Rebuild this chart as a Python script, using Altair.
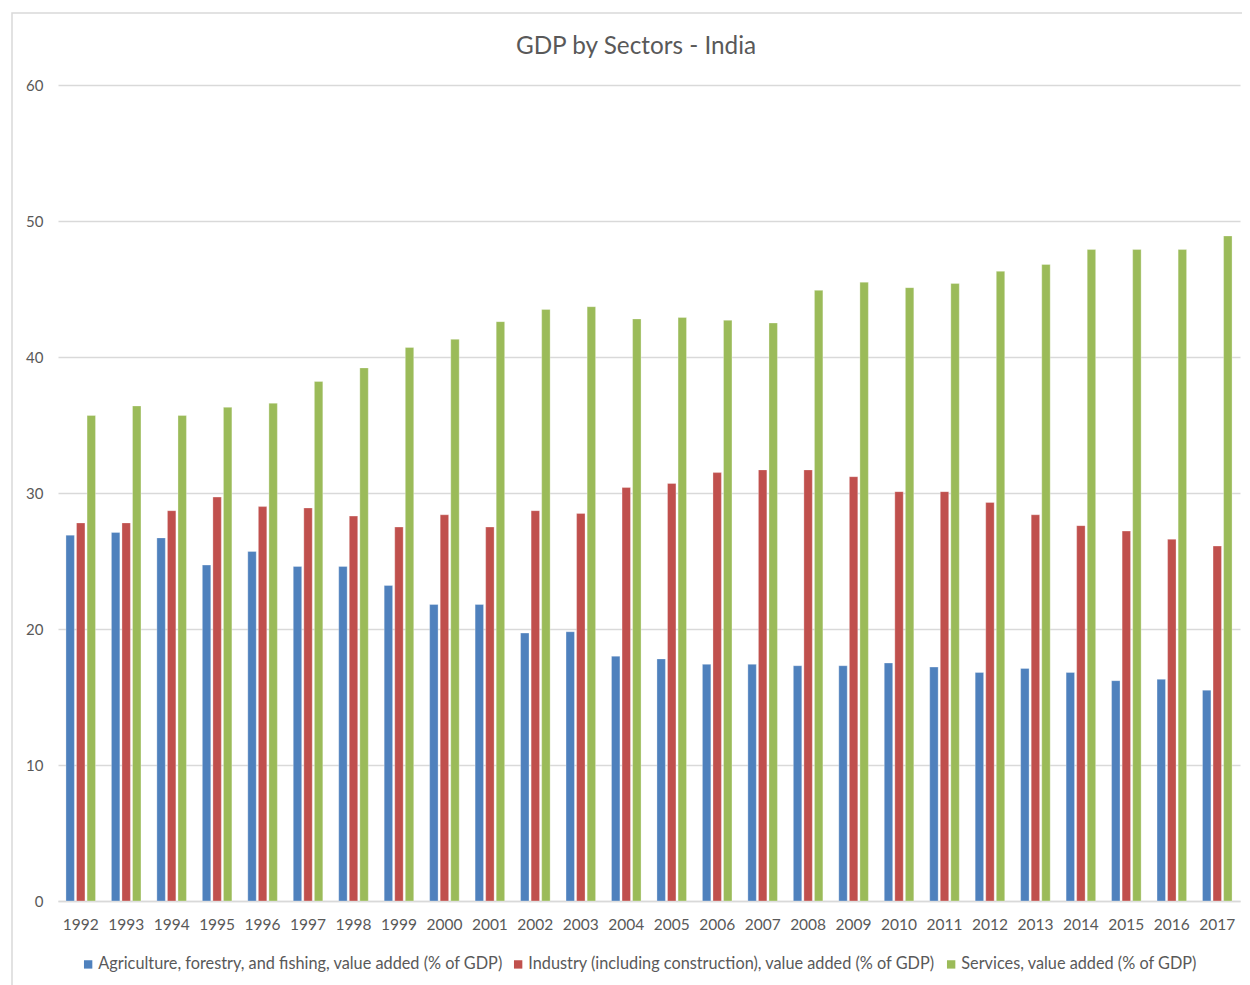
import altair as alt
import pandas as pd

years = [str(y) for y in range(1992, 2018)]
agri = [26.9, 27.1, 26.7, 24.7, 25.7, 24.6, 24.6, 23.2, 21.8, 21.8, 19.7, 19.8, 18.0,
        17.8, 17.4, 17.4, 17.3, 17.3, 17.5, 17.2, 16.8, 17.1, 16.8, 16.2, 16.3, 15.5]
ind = [27.8, 27.8, 28.7, 29.7, 29.0, 28.9, 28.3, 27.5, 28.4, 27.5, 28.7, 28.5, 30.4,
       30.7, 31.5, 31.7, 31.7, 31.2, 30.1, 30.1, 29.3, 28.4, 27.6, 27.2, 26.6, 26.1]
serv = [35.7, 36.4, 35.7, 36.3, 36.6, 38.2, 39.2, 40.7, 41.3, 42.6, 43.5, 43.7, 42.8,
        42.9, 42.7, 42.5, 44.9, 45.5, 45.1, 45.4, 46.3, 46.8, 47.9, 47.9, 47.9, 48.9]
series = [
    "Agriculture, forestry, and fishing, value added (% of GDP)",
    "Industry (including construction), value added (% of GDP)",
    "Services, value added (% of GDP)",
]
colors = ["#4F81BD", "#C0504D", "#9BBB59"]
y_ticks = [0, 10, 20, 30, 40, 50, 60]
title_text = "GDP by Sectors - India"

rows = []
for i, yr in enumerate(years):
    for s, vals in zip(series, [agri, ind, serv]):
        rows.append({"year": yr, "series": s, "value": vals[i]})
df = pd.DataFrame(rows)

font = "Lato"
txt = "#595959"
grid = "#d9d9d9"

bars = alt.Chart(df).mark_bar(stroke="white", strokeWidth=0.6, strokeOpacity=0.5).encode(
    x=alt.X("year:N", sort=years, title=None,
            scale=alt.Scale(paddingInner=0.35, paddingOuter=0.175),
            axis=alt.Axis(labelAngle=0, labelFont=font, labelFontSize=15.5, labelColor=txt,
                          ticks=False, domainColor=grid, domainWidth=1.5, labelPadding=16,
                          grid=False)),
    xOffset=alt.XOffset("series:N", sort=series, scale=alt.Scale(paddingInner=0.2)),
    y=alt.Y("value:Q", title=None, scale=alt.Scale(domain=[0, 60]),
            axis=alt.Axis(values=y_ticks, domain=False, ticks=False, gridColor=grid,
                          gridWidth=1.5, labelFont=font, labelFontSize=15, labelColor=txt,
                          labelPadding=15)),
    color=alt.Color("series:N", sort=series,
                    scale=alt.Scale(domain=series, range=colors),
                    legend=alt.Legend(title=None, orient="none", direction="horizontal",
                                      legendX=22, legendY=871, symbolType="square",
                                      symbolSize=70, labelFont=font, labelFontSize=16.3,
                                      labelColor=txt, labelLimit=0, columnPadding=7,
                                      labelOffset=2, symbolStrokeWidth=0)),
)

border = alt.Chart(pd.DataFrame({"a": [0]})).mark_rect(
    fill="transparent", stroke=grid, strokeWidth=1.5
).encode(x=alt.value(-46), x2=alt.value(1205), y=alt.value(-72), y2=alt.value(930))

title = alt.Chart(pd.DataFrame({"t": [title_text]})).mark_text(
    font=font, fontSize=24.3, color=txt, align="center", baseline="middle"
).encode(text="t:N", x=alt.value(578), y=alt.value(-38))

chart = alt.layer(border, bars, title).properties(
    width=1182, height=816,
    padding={"left": 50, "top": 77, "right": 2, "bottom": 84},
    autosize=alt.AutoSizeParams(type="none"),
).configure_view(stroke=None)

chart.save("out.html", embed_options={"renderer": "svg", "actions": False})
